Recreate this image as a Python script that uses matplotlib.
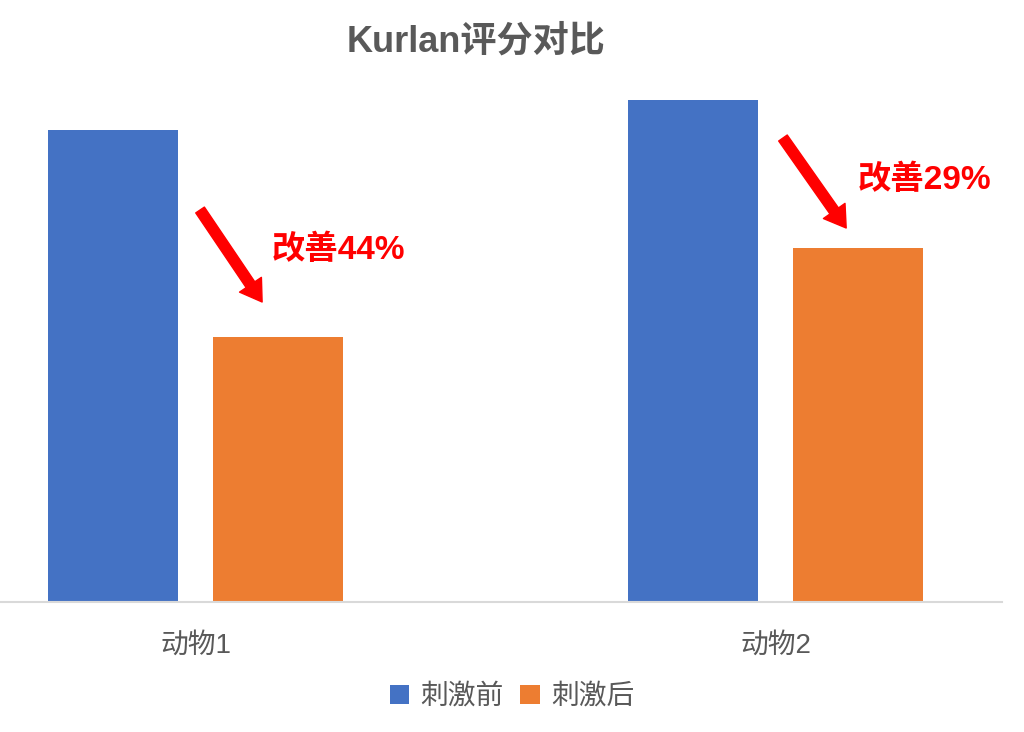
import numpy as np
import matplotlib.pyplot as plt

plt.rcParams['font.family'] = ['Liberation Sans', 'Noto Sans CJK SC', 'DejaVu Sans']

# Datos
categorias = ['动物1', '动物2']
antes = [47.2, 50.2]      # 刺激前
despues = [26.5, 35.4]    # 刺激后
mejoras = ['改善44%', '改善29%']

azul = '#4472C4'
naranja = '#ED7D31'
gris = '#595959'

fig = plt.figure(figsize=(10.24, 7.32), dpi=100)
ax = fig.add_axes([0.0, 1 - 602 / 732, 1002 / 1024, 522 / 732])

x = np.arange(len(categorias))
ancho = 0.224
ax.bar(x - 0.143, antes, ancho, color=azul, label='刺激前')
ax.bar(x + 0.141, despues, ancho, color=naranja, label='刺激后')

ax.set_xlim(-196 / 580, 806 / 580)
ax.set_ylim(0, 52.2)
ax.set_yticks([])
ax.set_xticks(x)
ax.set_xticklabels(categorias, fontsize=20, color=gris)
ax.tick_params(axis='x', length=0, pad=22)
for lado in ['top', 'right', 'left']:
    ax.spines[lado].set_visible(False)
ax.spines['bottom'].set_color('#D9D9D9')
ax.spines['bottom'].set_linewidth(1.5)

# Flechas y textos de mejora
inicio = [(0.007, 39.2), (1.012, 46.4)]
fin = [(0.114, 30.0), (1.121, 37.4)]
pos_texto = [(0.131, 35.2), (1.141, 42.2)]
for i in range(2):
    ax.annotate('', xy=fin[i], xytext=inicio[i],
                arrowprops=dict(facecolor='red', edgecolor='red', width=7.5,
                                headwidth=19, headlength=15, shrink=0))
    ax.text(pos_texto[i][0], pos_texto[i][1], mejoras[i], color='red',
            fontsize=24, fontweight='bold', va='center', ha='left')

fig.text(0.465, 1 - 42 / 732, 'Kurlan评分对比', fontsize=26, fontweight='bold',
         color=gris, ha='center', va='center')

fig.legend(loc='center', bbox_to_anchor=(0.5, 1 - 697 / 732), ncol=2,
           frameon=False, fontsize=20, labelcolor=gris, handlelength=0.7,
           handleheight=0.7, handletextpad=0.4, columnspacing=0.6)

fig.savefig('out.png', dpi=100, facecolor='white')
